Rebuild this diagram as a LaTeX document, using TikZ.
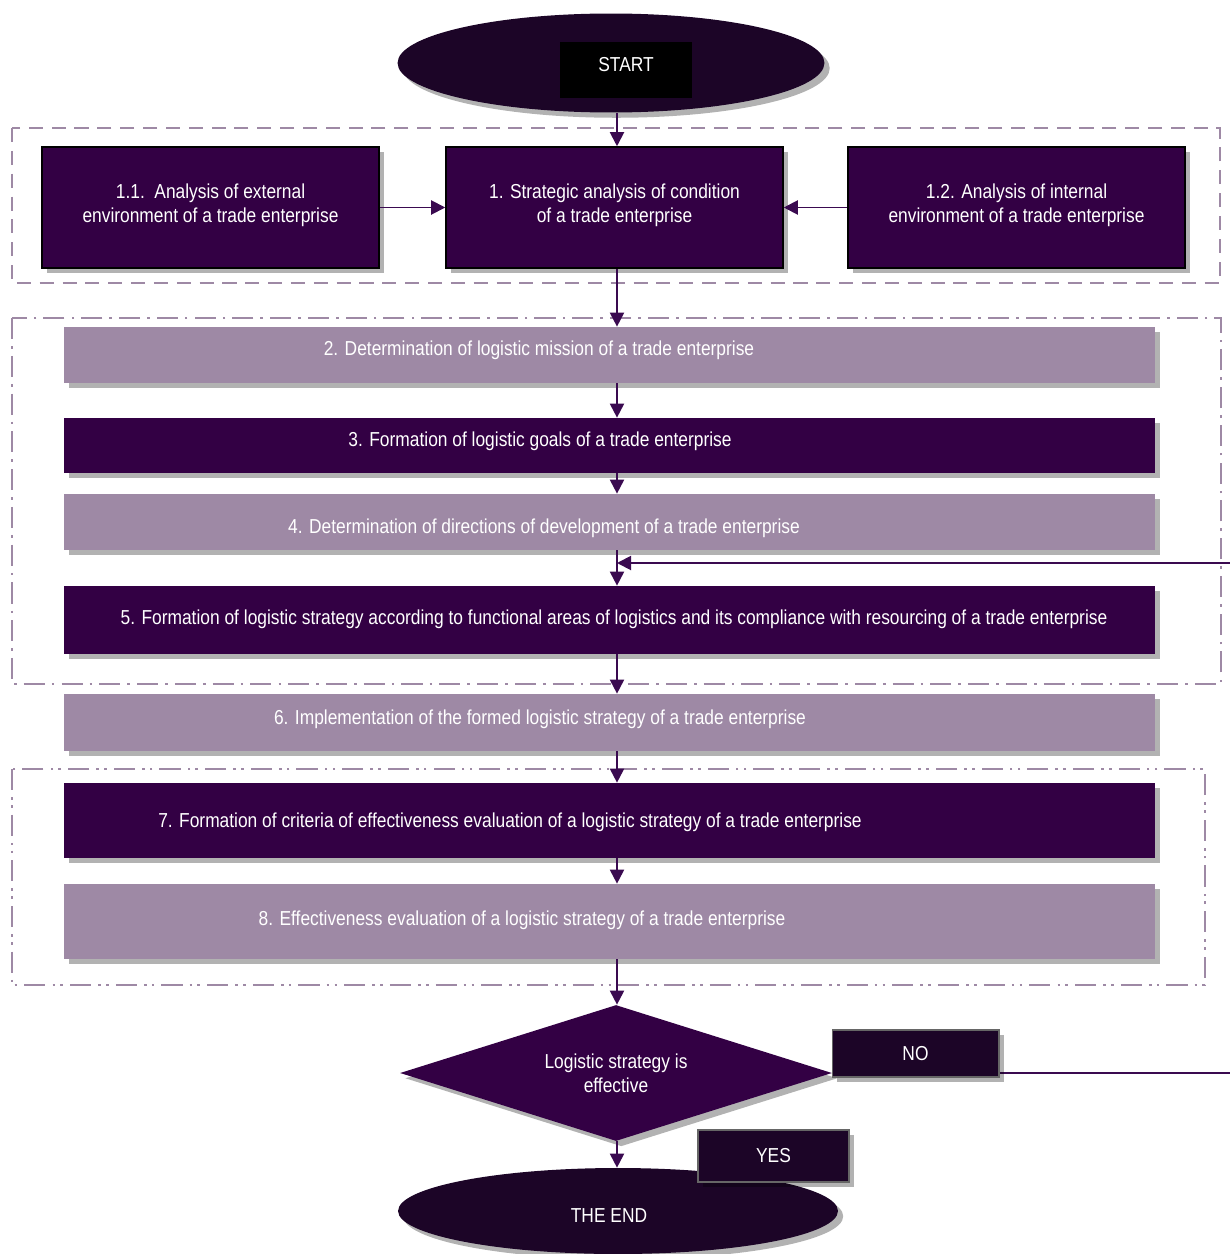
\documentclass[tikz,border=0pt]{standalone}
\usepackage{fontspec}
\setmainfont[FakeStretch=0.86]{Liberation Sans}
\usetikzlibrary{shapes.geometric,arrows.meta,shadows}
\definecolor{boxdark}{HTML}{330044}
\definecolor{boxlight}{HTML}{9E89A5}
\definecolor{ovaldark}{HTML}{1C0527}
\definecolor{arrowc}{HTML}{3A0A50}
\definecolor{framec}{HTML}{9E89A5}
\tikzset{
	txt/.style={text=white, font=\fontsize{11.5}{13.6}\selectfont, align=center},
	boxshadow/.style={drop shadow={shadow xshift=3pt, shadow yshift=-3pt, opacity=0.3, fill=black}},
	topbox/.style={rectangle, draw=black, line width=0.9pt, fill=boxdark, minimum width=6.74cm, minimum height=2.42cm, boxshadow, txt},
	stepdark/.style={rectangle, fill=boxdark, minimum width=21.82cm, boxshadow},
	steplight/.style={rectangle, fill=boxlight, minimum width=21.82cm, boxshadow},
	tag/.style={rectangle, draw=black!60, line width=0.6pt, fill=ovaldark, boxshadow, txt},
	oval/.style={ellipse, fill=ovaldark, boxshadow, txt},
	arr/.style={draw=arrowc, line width=1.1pt, -{Triangle[length=8pt,width=8pt]}},
	grp/.style={draw=framec, line width=1.5pt},
}
\begin{document}
\begin{tikzpicture}[x=0.02cm, y=-0.02cm]
	\useasboundingbox (0,0) rectangle (1230,1254);
	\coordinate (ax) at (617,0);
	\coordinate (fb) at (617,563);
	\coordinate (rt) at (1233,563);

	\draw[grp, dash pattern=on 8pt off 5pt] (12,128) rectangle (1220,283);
	\draw[grp, dash pattern=on 12pt off 4pt on 1.5pt off 4pt] (12,318) rectangle (1221,684);
	\draw[grp, dash pattern=on 12pt off 4pt on 1.5pt off 3pt on 1.5pt off 4pt] (12,769) rectangle (1205,985);

	\node[oval, minimum width=8.54cm, minimum height=1.98cm] (start) at (611,63) {};
	\node[fill=black, minimum width=2.64cm, minimum height=1.12cm] (startbox) at (626,70) {};
	\node[txt] (startlbl) at (626,65) {START};

	\node[topbox] (b11) at (210.5,207.5) {1.1.\ \ Analysis of external\\environment of a trade enterprise\\[-9pt]};
	\node[topbox] (b1) at (614.5,207.5) {1. Strategic analysis of condition\\of a trade enterprise\\[-9pt]};
	\node[topbox] (b12) at (1016.5,207.5) {1.2. Analysis of internal\\environment of a trade enterprise\\[-9pt]};

	\node[steplight, minimum height=1.12cm] (s2) at (609.5,355) {};
	\node[txt] (t2) at (539,350) {2. Determination of logistic mission of a trade enterprise};
	\node[stepdark, minimum height=1.1cm] (s3) at (609.5,445.5) {};
	\node[txt] (t3) at (540,441) {3. Formation of logistic goals of a trade enterprise};
	\node[steplight, minimum height=1.12cm] (s4) at (609.5,522) {};
	\node[txt] (t4) at (544,528) {4. Determination of directions of development of a trade enterprise};
	\node[stepdark, minimum height=1.36cm] (s5) at (609.5,620) {};
	\node[txt] (t5) at (614,619) {5. Formation of logistic strategy according to functional areas of logistics and its compliance with resourcing of a trade enterprise};
	\node[steplight, minimum height=1.14cm] (s6) at (609.5,722.5) {};
	\node[txt] (t6) at (540,719) {6. Implementation of the formed logistic strategy of a trade enterprise};
	\node[stepdark, minimum height=1.5cm] (s7) at (609.5,820.5) {};
	\node[txt] (t7) at (510,822) {7. Formation of criteria of effectiveness evaluation of a logistic strategy of a trade enterprise};
	\node[steplight, minimum height=1.5cm] (s8) at (609.5,921.5) {};
	\node[txt] (t8) at (522,920) {8. Effectiveness evaluation of a logistic strategy of a trade enterprise};

	\node[diamond, aspect=3.2, fill=boxdark, minimum width=8.64cm, minimum height=2.72cm, inner sep=0pt, boxshadow, txt] (dec) at (616,1073) {Logistic strategy is\\effective};
	\draw[arr] (dec.east) -| (rt) -- (fb);
	\node[tag, minimum width=3.34cm, minimum height=0.94cm] (no) at (915.5,1053.5) {NO};

	\node[oval, minimum width=8.8cm, minimum height=1.72cm] (end) at (618,1211) {};
	\node[txt] (endlbl) at (609,1216) {THE END};
	\node[tag, minimum width=3.02cm, minimum height=1.04cm] (yes) at (773.5,1156) {YES};

	\draw[arr] (start.south -| ax) -- (b1.north -| ax);
	\draw[arr] (b11) -- (b1);
	\draw[arr] (b12) -- (b1);
	\draw[arr] (b1.south -| ax) -- (s2.north -| ax);
	\draw[arr] (s2.south -| ax) -- (s3.north -| ax);
	\draw[arr] (s3.south -| ax) -- (s4.north -| ax);
	\draw[arr] (s4.south -| ax) -- (s5.north -| ax);
	\draw[arr] (s5.south -| ax) -- (s6.north -| ax);
	\draw[arr] (s6.south -| ax) -- (s7.north -| ax);
	\draw[arr] (s7.south -| ax) -- (s8.north -| ax);
	\draw[arr] (s8.south -| ax) -- (dec.north -| ax);
	\draw[arr] (dec.south -| ax) -- (end.north -| ax);
\end{tikzpicture}
\end{document}
